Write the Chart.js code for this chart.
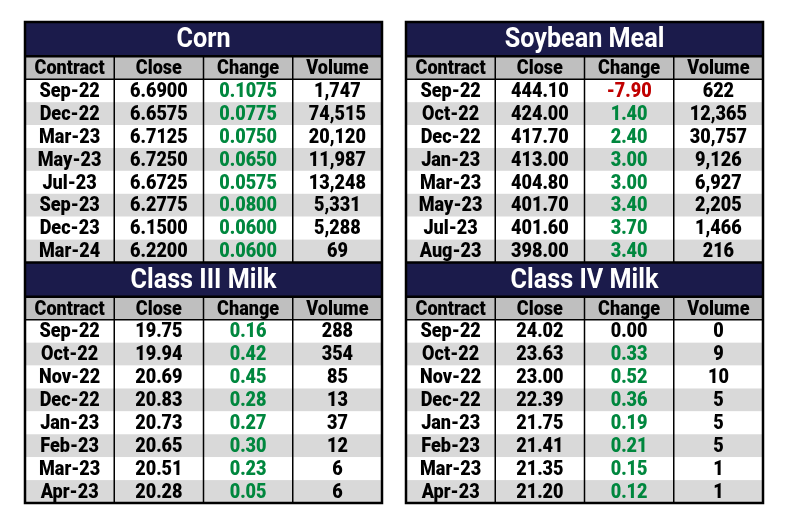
<!DOCTYPE html>
<html>
<head>
<meta charset="utf-8">
<script src="https://cdn.jsdelivr.net/npm/chart.js@4.4.0/dist/chart.umd.min.js"></script>
<style>
  body { margin: 0; background: #fff; width: 789px; height: 528px; position: relative; overflow: hidden; }
  .wrap { position: absolute; top: 20px; width: 361px; height: 485px; }
  #leftWrap { left: 23px; }
  #rightWrap { left: 404px; }
</style>
</head>
<body>
<div class="wrap" id="leftWrap"><canvas id="leftChart"></canvas></div>
<div class="wrap" id="rightWrap"><canvas id="rightChart"></canvas></div>
<script>
// Column headings shared by every block
const columns = ['Contract', 'Close', 'Change', 'Volume'];

// Corn
const cornContracts = ['Sep-22', 'Dec-22', 'Mar-23', 'May-23', 'Jul-23', 'Sep-23', 'Dec-23', 'Mar-24'];
const cornClose = [6.6900, 6.6575, 6.7125, 6.7250, 6.6725, 6.2775, 6.1500, 6.2200];
const cornChange = [0.1075, 0.0775, 0.0750, 0.0650, 0.0575, 0.0800, 0.0600, 0.0600];
const cornVolume = [1747, 74515, 20120, 11987, 13248, 5331, 5288, 69];

// Soybean Meal
const soyContracts = ['Sep-22', 'Oct-22', 'Dec-22', 'Jan-23', 'Mar-23', 'May-23', 'Jul-23', 'Aug-23'];
const soyClose = [444.10, 424.00, 417.70, 413.00, 404.80, 401.70, 401.60, 398.00];
const soyChange = [-7.90, 1.40, 2.40, 3.00, 3.00, 3.40, 3.70, 3.40];
const soyVolume = [622, 12365, 30757, 9126, 6927, 2205, 1466, 216];

// Class III Milk
const milk3Contracts = ['Sep-22', 'Oct-22', 'Nov-22', 'Dec-22', 'Jan-23', 'Feb-23', 'Mar-23', 'Apr-23'];
const milk3Close = [19.75, 19.94, 20.69, 20.83, 20.73, 20.65, 20.51, 20.28];
const milk3Change = [0.16, 0.42, 0.45, 0.28, 0.27, 0.30, 0.23, 0.05];
const milk3Volume = [288, 354, 85, 13, 37, 12, 6, 6];

// Class IV Milk
const milk4Contracts = ['Sep-22', 'Oct-22', 'Nov-22', 'Dec-22', 'Jan-23', 'Feb-23', 'Mar-23', 'Apr-23'];
const milk4Close = [24.02, 23.63, 23.00, 22.39, 21.75, 21.41, 21.35, 21.20];
const milk4Change = [0.00, 0.33, 0.52, 0.36, 0.19, 0.21, 0.15, 0.12];
const milk4Volume = [0, 9, 10, 5, 5, 5, 1, 1];

const NAVY = '#1b1b4b';
const HEAD_GRAY = '#bfbfbf';
const ROW_GRAY = '#d9d9d9';
const GREEN = '#00873e';
const RED = '#c00000';
const FONT = 'Roboto, "Noto Sans", sans-serif';
const SQUEEZE = 0.86;       // the source uses a condensed face
const TITLE_SQUEEZE = 0.9;

// row units: title 1.5, heading 1, each contract row 1
const TITLE_H = 1.5;
const blockHeight = n => TITLE_H + 1 + n;

function makeBlock(title, contracts, close, change, volume, decimals) {
    return { title, contracts, close, change, volume, decimals };
}

const tablePlugin = {
    id: 'table',
    beforeDatasetsDraw(chart) {
        const ctx = chart.ctx;
        const xs = chart.scales.x;
        const ys = chart.scales.y;
        const blocks = chart.options.plugins.table.blocks;
        const px = v => xs.getPixelForValue(v);
        const py = v => ys.getPixelForValue(v);

        const rect = (x0, x1, y0, y1, color) => {
            ctx.fillStyle = color;
            ctx.fillRect(px(x0), py(y0), px(x1) - px(x0), py(y1) - py(y0));
        };
        const hline = (y, x0, x1, w) => {
            ctx.beginPath();
            ctx.lineWidth = w;
            ctx.strokeStyle = '#000';
            ctx.moveTo(px(x0), py(y));
            ctx.lineTo(px(x1), py(y));
            ctx.stroke();
        };
        const vline = (x, y0, y1, w) => {
            ctx.beginPath();
            ctx.lineWidth = w;
            ctx.strokeStyle = '#000';
            ctx.moveTo(px(x), py(y0));
            ctx.lineTo(px(x), py(y1));
            ctx.stroke();
        };
        const text = (str, col, y, font, color, squeeze = SQUEEZE) => {
            ctx.save();
            ctx.translate(px(col + 0.5), py(y) + 1);
            ctx.scale(squeeze, 1);
            ctx.font = font;
            ctx.fillStyle = color;
            ctx.textAlign = 'center';
            ctx.textBaseline = 'middle';
            ctx.fillText(str, 0, 0);
            ctx.restore();
        };

        ctx.save();
        let start = 0;
        blocks.forEach(b => {
            const n = b.contracts.length;
            const headTop = start + TITLE_H;
            const rowsTop = headTop + 1;
            const end = start + blockHeight(n);

            // backgrounds
            rect(0, 4, start, headTop, NAVY);
            rect(0, 4, headTop, rowsTop, HEAD_GRAY);
            for (let i = 0; i < n; i++) {
                rect(0, 4, rowsTop + i, rowsTop + i + 1, i % 2 ? ROW_GRAY : '#ffffff');
            }

            // rules
            for (let c = 1; c < 4; c++) vline(c, headTop, end, 1.5);
            hline(headTop, 0, 4, 2.5);
            hline(rowsTop, 0, 4, 1.5);
            if (start > 0) hline(start, 0, 4, 2.5);

            // texts
            const cellFont = '900 21px ' + FONT;
            text(b.title, 1.5, start + TITLE_H / 2, 'bold 28px ' + FONT, '#ffffff', TITLE_SQUEEZE);
            columns.forEach((c, j) => text(c, j, headTop + 0.5, cellFont, '#000'));
            for (let i = 0; i < n; i++) {
                const y = rowsTop + i + 0.5;
                const ch = b.change[i];
                text(b.contracts[i], 0, y, cellFont, '#000');
                text(b.close[i].toFixed(b.decimals), 1, y, cellFont, '#000');
                text(ch.toFixed(b.decimals), 2, y, cellFont, ch > 0 ? GREEN : ch < 0 ? RED : '#000');
                text(b.volume[i].toLocaleString('en-US'), 3, y, cellFont, '#000');
            }
            start = end;
        });

        // outer frame
        ctx.lineWidth = 2.5;
        ctx.strokeStyle = '#000';
        ctx.strokeRect(px(0), py(0), px(4) - px(0), py(start) - py(0));
        ctx.restore();
    }
};

function buildChart(id, blocks) {
    const total = blocks.reduce((s, b) => s + blockHeight(b.contracts.length), 0);
    return new Chart(document.getElementById(id), {
        type: 'scatter',
        data: { datasets: [] },
        plugins: [tablePlugin],
        options: {
            responsive: true,
            maintainAspectRatio: false,
            animation: false,
            layout: { padding: 2 },
            scales: {
                x: { type: 'linear', min: 0, max: 4, display: false },
                y: { type: 'linear', min: 0, max: total, reverse: true, display: false }
            },
            plugins: {
                legend: { display: false },
                tooltip: { enabled: false },
                table: { blocks }
            }
        }
    });
}

buildChart('leftChart', [
    makeBlock('Corn', cornContracts, cornClose, cornChange, cornVolume, 4),
    makeBlock('Class III Milk', milk3Contracts, milk3Close, milk3Change, milk3Volume, 2)
]);
buildChart('rightChart', [
    makeBlock('Soybean Meal', soyContracts, soyClose, soyChange, soyVolume, 2),
    makeBlock('Class IV Milk', milk4Contracts, milk4Close, milk4Change, milk4Volume, 2)
]);
</script>
</body>
</html>
